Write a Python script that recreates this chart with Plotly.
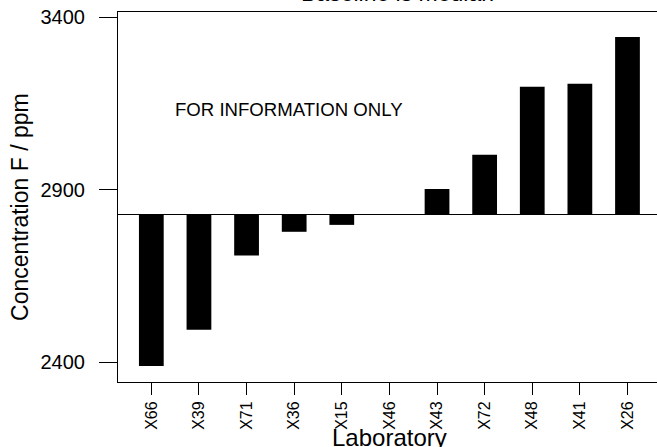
import numpy as np
import plotly.graph_objects as go

labs = ["X66", "X39", "X71", "X36", "X15", "X46", "X43", "X72", "X48", "X41", "X26"]
conc = [2389, 2494, 2709, 2778, 2798, 2828, 2902, 3001, 3198, 3207, 3342]
y_ticks = [2400, 2900, 3400]
title_txt = "Baseline is median"
note_txt = "FOR INFORMATION ONLY"
x_title = "Laboratory"
y_title = "Concentration F / ppm"

med = float(np.median(conc))
idx = list(range(len(labs)))
FONT = "Liberation Sans, Arial, sans-serif"

fig = go.Figure()
fig.add_trace(go.Bar(
    x=idx, y=[v - med for v in conc], base=med,
    width=0.52, marker=dict(color="black", line=dict(width=0)),
    showlegend=False, hoverinfo="skip"))

fig.add_shape(type="line", xref="paper", yref="y", x0=0, x1=1, y0=med, y1=med,
              line=dict(color="black", width=1.2))

W, H = 657, 447
L, R, T, B = 118, 0, 12, 65
pw, ph = W - L - R, H - T - B

def px(xp):
    return (xp - L) / pw

def py(yp):
    return (H - B - yp) / ph

fig.update_layout(
    width=W, height=H,
    margin=dict(l=L, r=R, t=T, b=B, pad=0),
    paper_bgcolor="white", plot_bgcolor="white",
    font=dict(family=FONT, color="black"),
    xaxis=dict(
        range=[-0.70, (W - 151.5) / 47.6],
        tickmode="array", tickvals=idx, ticktext=labs,
        tickangle=-90, tickfont=dict(size=16, color="black"),
        ticks="outside", ticklen=12, tickwidth=1, tickcolor="black",
        showline=True, linecolor="black", linewidth=1, mirror=True,
        showgrid=False, zeroline=False, fixedrange=True),
    yaxis=dict(
        range=[2343, 3414.5],
        tickmode="array", tickvals=y_ticks,
        tickfont=dict(size=20, color="black"),
        ticks="outside", ticklen=18, tickwidth=1, tickcolor="black",
        ticklabelstandoff=10,
        showline=True, linecolor="black", linewidth=1, mirror=False,
        showgrid=False, zeroline=False, fixedrange=True),
    annotations=[
        dict(text=title_txt, xref="paper", yref="paper", x=px(397.5), y=py(-7),
             xanchor="center", yanchor="middle", showarrow=False,
             font=dict(size=23, family=FONT, color="black")),
        dict(text=note_txt, xref="paper", yref="paper", x=px(172.5), y=py(109),
             xanchor="left", yanchor="middle", showarrow=False,
             font=dict(size=18.6, family=FONT, color="black")),
        dict(text=x_title, xref="paper", yref="paper", x=px(389.5), y=py(437),
             xanchor="center", yanchor="middle", showarrow=False,
             font=dict(size=24, family=FONT, color="black")),
        dict(text=y_title, xref="paper", yref="paper", x=px(19.2), y=py(206.7),
             xanchor="center", yanchor="middle", textangle=-90, showarrow=False,
             font=dict(size=23, family=FONT, color="black")),
    ],
)

fig.write_html(
    "out.html",
    config={"displayModeBar": False},
    post_script="document.documentElement.style.margin='0';"
                "document.body.style.margin='0';document.body.style.padding='0';"
                "document.body.style.overflow='hidden';")
